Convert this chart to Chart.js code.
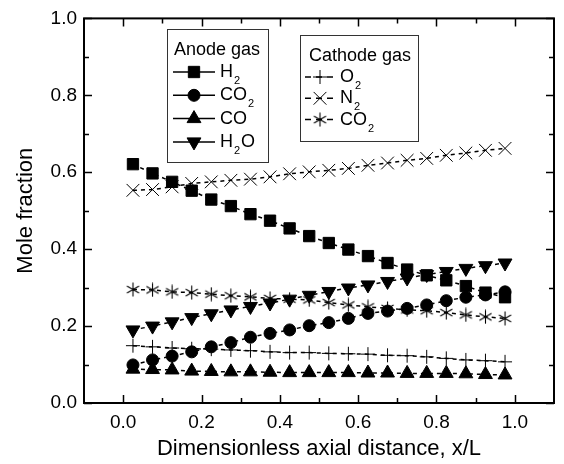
<!DOCTYPE html>
<html>
<head>
<meta charset="utf-8">
<script src="https://cdn.jsdelivr.net/npm/chart.js@4.4.0/dist/chart.umd.min.js"></script>
<style>
  body { margin: 0; background: #fff; }
  #wrap { width: 564px; height: 464px; }
</style>
</head>
<body>
<div id="wrap"><canvas id="chart" width="564" height="464"></canvas></div>
<script>
// values
const xPos = [0.025, 0.075, 0.125, 0.175, 0.225, 0.275, 0.325, 0.375, 0.425, 0.475,
              0.525, 0.575, 0.625, 0.675, 0.725, 0.775, 0.825, 0.875, 0.925, 0.975];

// anode gas
const h2 = [0.621, 0.597, 0.575, 0.552, 0.529, 0.512, 0.491, 0.474, 0.454, 0.434,
            0.416, 0.399, 0.382, 0.364, 0.347, 0.332, 0.319, 0.304, 0.287, 0.275];
const co2Anode = [0.099, 0.112, 0.122, 0.133, 0.146, 0.157, 0.171, 0.181, 0.190, 0.201,
                  0.209, 0.220, 0.233, 0.239, 0.246, 0.255, 0.266, 0.275, 0.281, 0.289];
const co = [0.088, 0.087, 0.086, 0.083, 0.082, 0.081, 0.081, 0.080, 0.079, 0.079,
            0.079, 0.079, 0.078, 0.078, 0.077, 0.077, 0.077, 0.076, 0.074, 0.073];
const h2o = [0.190, 0.200, 0.211, 0.222, 0.232, 0.242, 0.251, 0.260, 0.270, 0.280,
             0.290, 0.299, 0.307, 0.316, 0.325, 0.334, 0.342, 0.350, 0.357, 0.364];

// cathode gas
const o2 = [0.149, 0.146, 0.143, 0.141, 0.140, 0.138, 0.136, 0.133, 0.131, 0.131,
            0.129, 0.128, 0.127, 0.124, 0.123, 0.120, 0.116, 0.112, 0.110, 0.107];
const n2 = [0.553, 0.555, 0.562, 0.571, 0.575, 0.579, 0.582, 0.588, 0.596, 0.601,
            0.605, 0.610, 0.618, 0.624, 0.631, 0.636, 0.644, 0.650, 0.657, 0.662];
const co2Cathode = [0.295, 0.294, 0.289, 0.287, 0.283, 0.279, 0.276, 0.272, 0.270, 0.268,
                    0.261, 0.255, 0.250, 0.246, 0.242, 0.240, 0.235, 0.229, 0.224, 0.220];

const anodeLabels = ['H_2', 'CO_2', 'CO', 'H_2O'];
const cathodeLabels = ['O_2', 'N_2', 'CO_2'];

// axis ticks
const xTicks = [0, 0.2, 0.4, 0.6, 0.8, 1.0];
const xMinor = [0.1, 0.3, 0.5, 0.7, 0.9];
const yTicks = [0, 0.2, 0.4, 0.6, 0.8, 1.0];
const yMinor = [0.1, 0.3, 0.5, 0.7, 0.9];

const FONT = "'Liberation Sans', Arial, Helvetica, sans-serif";
Chart.defaults.font.family = FONT;
Chart.defaults.color = '#000';

// 6-arm asterisk used for cathode CO2
function makeAsterisk(size) {
    const c = document.createElement('canvas');
    c.width = c.height = size;
    const g = c.getContext('2d');
    g.strokeStyle = '#000';
    g.lineWidth = 1.1;
    const m = size / 2, r = size / 2 - 0.5;
    [90, 30, 150].forEach(a => {
        const t = a * Math.PI / 180;
        g.beginPath();
        g.moveTo(m - r * Math.cos(t), m - r * Math.sin(t));
        g.lineTo(m + r * Math.cos(t), m + r * Math.sin(t));
        g.stroke();
    });
    return c;
}
const asterisk = makeAsterisk(15);

function series(values, style, radius, rotation, filled) {
    return {
        data: xPos.map((x, i) => ({ x: x, y: values[i] })),
        borderColor: '#000',
        backgroundColor: '#000',
        borderWidth: 1.5,
        borderDash: [4, 4],
        pointStyle: style,
        pointRadius: radius,
        pointRotation: rotation,
        pointBorderWidth: 1,
        pointBackgroundColor: filled ? '#000' : 'transparent',
        pointBorderColor: '#000',
        tension: 0,
    };
}

const datasets = [
    series(h2, 'rect', 8, 0, true),
    series(co2Anode, 'circle', 6, 0, true),
    series(co, 'triangle', 8, 0, true),
    series(h2o, 'triangle', 8, 180, true),
    series(o2, 'cross', 7, 0, false),
    series(n2, 'crossRot', 9, 0, false),
    series(co2Cathode, asterisk, 7, 0, false),
];

// draw "H_2O" style text with subscripts
function drawChem(ctx, text, x, y, size) {
    let cx = x;
    for (let i = 0; i < text.length; i++) {
        if (text[i] === '_') {
            i++;
            ctx.font = Math.round(size * 0.6) + 'px ' + FONT;
            ctx.fillText(text[i], cx + 1, y + size * 0.5);
            cx += ctx.measureText(text[i]).width + 2;
        } else {
            ctx.font = size + 'px ' + FONT;
            ctx.fillText(text[i], cx, y);
            cx += ctx.measureText(text[i]).width;
        }
    }
}

function marker(ctx, ds, x, y) {
    ctx.save();
    ctx.setLineDash([]);
    ctx.fillStyle = ds.pointBackgroundColor;
    ctx.strokeStyle = '#000';
    ctx.lineWidth = 1;
    Chart.helpers.drawPoint(ctx, {
        pointStyle: ds.pointStyle, radius: ds.pointRadius,
        rotation: ds.pointRotation, borderWidth: 1
    }, x, y);
    ctx.restore();
}

const legendPlugin = {
    id: 'gasLegend',
    afterDraw(chart) {
        const ctx = chart.ctx;
        ctx.save();
        ctx.strokeStyle = '#333';
        ctx.lineWidth = 1;
        ctx.strokeRect(167.5, 29.5, 101, 133);
        ctx.strokeRect(300.5, 35.5, 118, 106);
        ctx.fillStyle = '#000';
        ctx.textBaseline = 'middle';
        ctx.font = '18px ' + FONT;
        ctx.fillText('Anode gas', 174, 50);
        ctx.fillText('Cathode gas', 309, 56);

        anodeLabels.forEach((lab, i) => {
            const y = 72 + i * 23.3;
            ctx.strokeStyle = '#000';
            ctx.lineWidth = 1.5;
            ctx.setLineDash([]);
            ctx.beginPath();
            ctx.moveTo(173, y);
            ctx.lineTo(215, y);
            ctx.stroke();
            marker(ctx, chart.data.datasets[i], 194, y);
            ctx.fillStyle = '#000';
            ctx.textBaseline = 'middle';
            drawChem(ctx, lab, 220, y, 18);
        });

        cathodeLabels.forEach((lab, i) => {
            const y = 77 + i * 21.3;
            ctx.strokeStyle = '#000';
            ctx.lineWidth = 1.5;
            ctx.setLineDash([6, 5]);
            ctx.beginPath();
            ctx.moveTo(305, y);
            ctx.lineTo(337, y);
            ctx.stroke();
            marker(ctx, chart.data.datasets[4 + i], 320, y);
            ctx.fillStyle = '#000';
            ctx.textBaseline = 'middle';
            drawChem(ctx, lab, 340, y, 18);
        });
        ctx.restore();
    }
};

// box frame with inward ticks on all four sides
const framePlugin = {
    id: 'frame',
    afterDatasetsDraw(chart) {
        const { ctx, chartArea: a, scales: { x, y } } = chart;
        ctx.save();
        ctx.strokeStyle = '#000';
        ctx.setLineDash([]);
        ctx.lineWidth = 1.5;
        const tick = (vals, len) => {
            vals.forEach(v => {
                const px = Math.round(x.getPixelForValue(v)) + 0.5;
                ctx.beginPath();
                ctx.moveTo(px, a.bottom); ctx.lineTo(px, a.bottom - len);
                ctx.moveTo(px, a.top); ctx.lineTo(px, a.top + len);
                ctx.stroke();
            });
        };
        const ytick = (vals, len) => {
            vals.forEach(v => {
                const py = Math.round(y.getPixelForValue(v)) + 0.5;
                ctx.beginPath();
                ctx.moveTo(a.left, py); ctx.lineTo(a.left + len, py);
                ctx.moveTo(a.right, py); ctx.lineTo(a.right - len, py);
                ctx.stroke();
            });
        };
        tick(xTicks, 8);
        tick(xMinor, 5);
        ytick(yTicks, 8);
        ytick(yMinor, 5);
        ctx.lineWidth = 2;
        ctx.strokeRect(a.left, a.top, a.right - a.left, a.bottom - a.top);
        ctx.restore();
    }
};

new Chart(document.getElementById('chart'), {
    type: 'line',
    data: { datasets: datasets },
    options: {
        responsive: false,
        animation: false,
        layout: { padding: { left: 0, right: 1, top: 18, bottom: 0 } },
        plugins: { legend: { display: false }, tooltip: { enabled: false } },
        scales: {
            x: {
                type: 'linear',
                min: -0.1,
                max: 1.1,
                afterBuildTicks: s => { s.ticks = xTicks.map(v => ({ value: v })); },
                afterFit: s => { s.height = 61; },
                grid: { display: false, drawTicks: false },
                border: { display: false },
                ticks: {
                    padding: 8, autoSkip: false, maxRotation: 0,
                    font: { size: 19 }, color: '#000',
                    callback: v => v.toFixed(1)
                },
                title: {
                    display: true, text: 'Dimensionless axial distance, x/L',
                    font: { size: 22 }, color: '#000',
                    padding: { top: 0, bottom: 2 }
                }
            },
            y: {
                min: 0,
                max: 1.0,
                afterBuildTicks: s => { s.ticks = yTicks.map(v => ({ value: v })); },
                afterFit: s => { s.width = 84; },
                grid: { display: false, drawTicks: false },
                border: { display: false },
                ticks: {
                    padding: 7, autoSkip: false,
                    font: { size: 19 }, color: '#000',
                    callback: v => v.toFixed(1)
                },
                title: {
                    display: true, text: 'Mole fraction',
                    font: { size: 22 }, color: '#000',
                    padding: { top: 13, bottom: 0 }
                }
            }
        }
    },
    plugins: [framePlugin, legendPlugin]
});
</script>
</body>
</html>
